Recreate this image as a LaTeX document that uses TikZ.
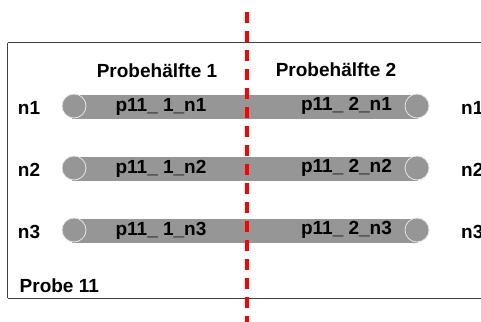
\documentclass[tikz,border=0pt]{standalone}
\usepackage{fontspec}
\setmainfont{Liberation Sans}
\begin{document}
\begin{tikzpicture}[x=1pt,y=-1pt,
  lbl/.style={font=\fontsize{19}{22}\selectfont\bfseries, text=black, inner sep=0pt, anchor=center},
  endcap/.style={circle, fill=barcol, draw=capline, line width=0.8pt, minimum size=24pt, inner sep=0pt},
  frameline/.style={draw=framecol, line width=1pt},
  cutline/.style={draw=red, line width=3.2pt, dash pattern=on 11pt off 8pt}
]
\definecolor{barcol}{HTML}{969696}
\definecolor{capline}{HTML}{E6E6E6}
\definecolor{framecol}{HTML}{404040}
\useasboundingbox (0,0) rectangle (481,321);
\begin{scope}
\clip (0,0) rectangle (481,321);
% frame
\draw[frameline] (7.5,43) -- (490,43);
\draw[frameline] (7.5,43) -- (7.5,298);
\draw[frameline] (7.5,298) -- (490,298);
% bars
\foreach \r/\yy in {1/107, 2/169, 3/231} {
  \fill[barcol] (72,\yy-12) rectangle (418,\yy+12);
  \node[endcap] (cl\r) at (74,\yy-1) {};
  \node[endcap] (cr\r) at (417,\yy-1) {};
  \node[lbl] (nl\r) at (29,\yy+1) {n\r};
  \node[lbl, anchor=west] (nr\r) at (461,\yy+1) {n\r};
  \node[lbl] (pa\r) at (161,\yy) {p11\_ 1\_n\r};
  \node[lbl] (pb\r) at (346.5,\yy-1) {p11\_ 2\_n\r};
}
\node[lbl] (h1) at (157,71) {Probehälfte 1};
\node[lbl] (h2) at (336,69.5) {Probehälfte 2};
\node[lbl, anchor=west] (probe) at (19.5,286) {Probe 11};
% cut line
\coordinate (ctop) at (247,12);
\coordinate (cbot) at (247,330);
\draw[cutline] (ctop) -- (cbot);
\end{scope}
\end{tikzpicture}
\end{document}
